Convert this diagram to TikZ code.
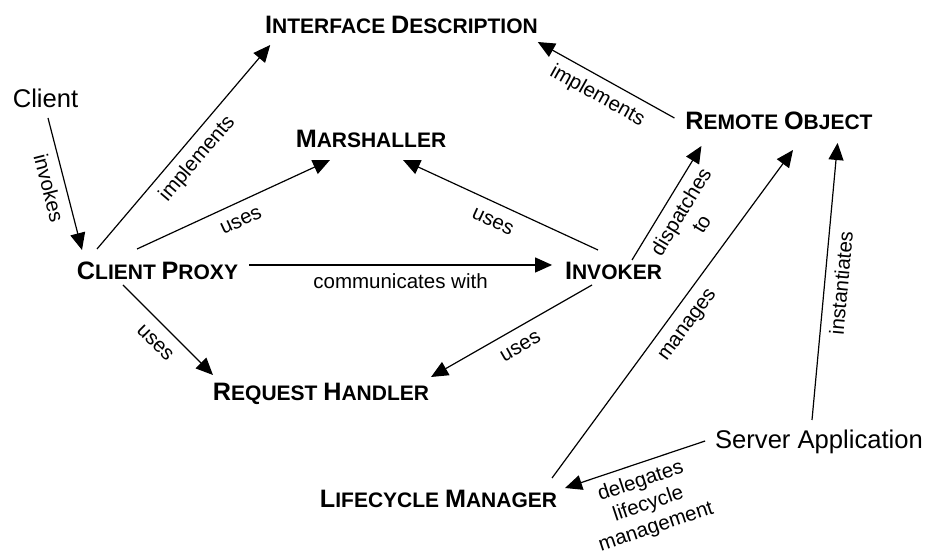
\documentclass[tikz,border=0pt]{standalone}
\usepackage{fontspec}
\setmainfont{Liberation Sans}
\usetikzlibrary{arrows.meta}

\newcommand{\capl}[1]{{\fontsize{12.6}{14}\selectfont #1}}

\begin{document}
\begin{tikzpicture}[x=0.5pt,y=0.5pt,->,>={Triangle[length=8.5pt,width=7.5pt]},line width=0.6pt,
  comp/.style={font=\bfseries\fontsize{10.5}{12}\selectfont,inner sep=0pt,outer sep=0pt,
    text height=9pt,text depth=0pt,anchor=base},
  actor/.style={font=\fontsize{12.8}{15}\selectfont,inner sep=0pt,outer sep=0pt,
    text height=9pt,text depth=0pt,anchor=base},
  lbl/.style={font=\fontsize{10.25}{12}\selectfont,sloped,below,inner sep=4pt,align=center},
  word/.style={lbl,text height=7.5pt,text depth=2pt}]

\useasboundingbox (0,0) rectangle (927,556);

\node[actor] (client) at (45.5,448) {Client};
\node[actor] (server) at (819,107) {Server Application};
\node[comp] (iface) at (401.5,522) {\capl{I}NTERFACE \capl{D}ESCRIPTION};
\node[comp] (marsh) at (371,408) {\capl{M}ARSHALLER};
\node[comp] (remote) at (779,426) {\capl{R}EMOTE \capl{O}BJECT};
\node[comp] (proxy) at (157.5,276) {\capl{C}LIENT \capl{P}ROXY};
\node[comp] (invoker) at (613.5,276) {\capl{I}NVOKER};
\node[comp] (handler) at (321,155) {\capl{R}EQUEST \capl{H}ANDLER};
\node[comp] (lifecycle) at (438.5,48) {\capl{L}IFECYCLE \capl{M}ANAGER};

% client side
\draw ([shift={(2.5,-10)}]client.south) -- node[word] {invokes} ([shift={(5,12)}]proxy.north west);
\draw ([shift={(20,13)}]proxy.north west) -- node[word] {implements} ([shift={(5,-11)}]iface.south west);
\draw ([shift={(-20.5,13)}]proxy.north) -- node[word] {uses} ([shift={(-41,-12)}]marsh.south);
\draw ([shift={(11,6)}]proxy.east) -- node[word] {communicates with} ([shift={(-13,6)}]invoker.west);
\draw ([shift={(-34.5,-5)}]proxy.south) -- node[word] {uses} ([shift={(0,8)}]handler.north west);

% server side
\draw ([shift={(-15.5,12)}]invoker.north) -- node[word] {uses} ([shift={(32,-12)}]marsh.south);
\draw ([shift={(-21.5,-5)}]invoker.south) -- node[word] {uses} ([shift={(2,6)}]handler.north east);
\draw ([shift={(18.5,2)}]invoker.north) -- node[lbl] {dispatches\\to} ([shift={(16,-16)}]remote.south west);
\draw ([shift={(-5,12)}]lifecycle.north east) -- node[word] {manages} ([shift={(14,-20)}]remote.south);
\draw ([shift={(-7,11)}]server.north) -- node[word] {instantiates} ([shift={(-35,-13)}]remote.south east);
\draw ([shift={(-10,-1)}]server.west) -- node[lbl] {delegates\\lifecycle\\management} ([shift={(8,2)}]lifecycle.north east);
\draw ([shift={(-11,3)}]remote.west) -- node[word] {implements} ([shift={(0,-8)}]iface.south east);

\end{tikzpicture}
\end{document}
